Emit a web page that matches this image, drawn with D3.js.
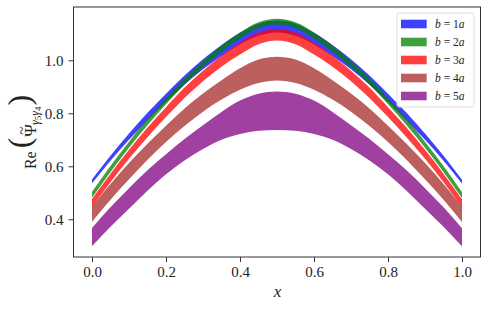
<!DOCTYPE html>
<html>
<head>
<meta charset="utf-8">
<script src="https://cdn.jsdelivr.net/npm/d3@7"></script>
<style>
  html, body { margin: 0; padding: 0; background: #fff; }
  svg { display: block; }
  svg text { font-family: "Liberation Serif", serif; fill: #222; }
</style>
</head>
<body>
<svg id="chart" width="489" height="310"></svg>
<script>
// ---- data ----
const xs = [0.00, 0.05, 0.10, 0.15, 0.20, 0.25, 0.30, 0.35, 0.40, 0.45, 0.50,
            0.55, 0.60, 0.65, 0.70, 0.75, 0.80, 0.85, 0.90, 0.95, 1.00];

const labels = ["1", "2", "3", "4", "5"];
const colors = ["#0000ff", "#008000", "#ff0000", "#a52a2a", "#800080"];

const blueLo   = [0.535,0.621,0.700,0.774,0.843,0.908,0.966,1.016,1.060,1.093,1.105,1.093,1.060,1.016,0.966,0.908,0.843,0.774,0.700,0.621,0.535];
const blueHi   = [0.550,0.640,0.724,0.802,0.874,0.943,1.004,1.058,1.104,1.138,1.150,1.138,1.104,1.058,1.004,0.943,0.874,0.802,0.724,0.640,0.550];
const greenLo  = [0.480,0.578,0.670,0.755,0.834,0.909,0.975,1.032,1.082,1.121,1.135,1.121,1.082,1.032,0.975,0.909,0.834,0.755,0.670,0.578,0.480];
const greenHi  = [0.503,0.601,0.693,0.778,0.856,0.931,0.997,1.056,1.105,1.144,1.157,1.144,1.105,1.056,0.997,0.931,0.856,0.778,0.693,0.601,0.503];
const redLo    = [0.446,0.540,0.628,0.710,0.786,0.858,0.921,0.976,1.022,1.061,1.075,1.061,1.022,0.976,0.921,0.858,0.786,0.710,0.628,0.540,0.446];
const redHi    = [0.476,0.572,0.662,0.746,0.823,0.897,0.961,1.017,1.066,1.105,1.118,1.105,1.066,1.017,0.961,0.897,0.823,0.746,0.662,0.572,0.476];
const brownLo  = [0.390,0.474,0.551,0.625,0.692,0.752,0.806,0.852,0.889,0.914,0.924,0.914,0.889,0.852,0.806,0.752,0.692,0.625,0.551,0.474,0.390];
const brownHi  = [0.448,0.533,0.612,0.685,0.753,0.818,0.875,0.925,0.970,1.003,1.013,1.003,0.970,0.925,0.875,0.818,0.753,0.685,0.612,0.533,0.448];
const purpleLo = [0.298,0.372,0.440,0.508,0.570,0.622,0.665,0.700,0.722,0.734,0.737,0.734,0.722,0.700,0.665,0.622,0.570,0.508,0.440,0.372,0.298];
const purpleHi = [0.366,0.445,0.517,0.585,0.645,0.703,0.755,0.805,0.848,0.874,0.882,0.874,0.848,0.805,0.755,0.703,0.645,0.585,0.517,0.445,0.366];

const xTicks = [0.0, 0.2, 0.4, 0.6, 0.8, 1.0];
const yTicks = [0.4, 0.6, 0.8, 1.0];

const bands = [
  {lo: blueLo,   hi: blueHi,   color: colors[0], label: labels[0]},
  {lo: greenLo,  hi: greenHi,  color: colors[1], label: labels[1]},
  {lo: redLo,    hi: redHi,    color: colors[2], label: labels[2]},
  {lo: brownLo,  hi: brownHi,  color: colors[3], label: labels[3]},
  {lo: purpleLo, hi: purpleHi, color: colors[4], label: labels[4]}
];

// ---- layout ----
const L = 73.5, R = 480.5, T = 7, B = 257;
const SERIF = "'Liberation Serif', serif";
const svg = d3.select("#chart");

const x = d3.scaleLinear().domain([-0.05, 1.05]).range([L, R]);
const y = d3.scaleLinear().domain([0.2577, 1.2011]).range([B, T]);

svg.append("defs").append("clipPath").attr("id", "plotclip")
  .append("rect").attr("x", L).attr("y", T).attr("width", R - L).attr("height", B - T);

const g = svg.append("g").attr("clip-path", "url(#plotclip)");
bands.forEach(b => {
  const pts = xs.map((xv, i) => ({x: xv, lo: b.lo[i], hi: b.hi[i]}));
  const area = d3.area()
    .x(d => x(d.x)).y0(d => y(d.lo)).y1(d => y(d.hi))
    .curve(d3.curveCatmullRom.alpha(0.5));
  g.append("path").datum(pts)
    .attr("d", area)
    .attr("fill", b.color)
    .attr("fill-opacity", 0.75)
    .attr("stroke", "none");
});

// ---- axes ----
const xAxis = d3.axisBottom(x).tickValues(xTicks).tickFormat(d3.format(".1f")).tickSize(5).tickPadding(4);
const yAxis = d3.axisLeft(y).tickValues(yTicks).tickFormat(d3.format(".1f")).tickSize(5).tickPadding(5);

const gx = svg.append("g").attr("transform", `translate(0,${B})`).call(xAxis);
const gy = svg.append("g").attr("transform", `translate(${L},0)`).call(yAxis);
[gx, gy].forEach(a => {
  a.attr("font-family", null);
  a.select(".domain").remove();
  a.selectAll(".tick line").attr("stroke", "#333").attr("stroke-width", 1);
  a.selectAll(".tick text").style("font-family", SERIF).style("font-size", "15px").attr("fill", "#222");
});
gx.selectAll(".tick text").attr("dy", "0.71em");
gy.selectAll(".tick text").attr("dy", "0.33em");

// frame
svg.append("rect").attr("x", L).attr("y", T).attr("width", R - L).attr("height", B - T)
  .attr("fill", "none").attr("stroke", "#333").attr("stroke-width", 1);

// x label
svg.append("text").attr("x", (L + R) / 2 + 0.5).attr("y", 297)
  .attr("text-anchor", "middle").style("font-family", SERIF).style("font-size", "17px")
  .style("font-style", "italic").text("x");

// y label
const yl = svg.append("text")
  .attr("transform", `translate(36,${(T + B) / 2}) rotate(-90)`)
  .attr("text-anchor", "middle").style("font-family", SERIF).style("font-size", "16px");
yl.append("tspan").text("Re");
yl.append("tspan").style("font-size", "32px").attr("dx", 3).attr("dy", -6).text("(");
yl.append("tspan").style("font-size", "17px").attr("dx", 1).attr("dy", 6).text("Ψ");
yl.append("tspan").style("font-size", "15px").attr("dx", -10.5).attr("dy", -9).text("~");
yl.append("tspan").style("font-size", "12px").style("font-style", "italic")
  .attr("dx", 1.5).attr("dy", 12).text("γ");
yl.append("tspan").style("font-size", "9px").attr("dy", 1.5).text("5");
yl.append("tspan").style("font-size", "12px").style("font-style", "italic").attr("dy", -1.5).text("γ");
yl.append("tspan").style("font-size", "9px").attr("dy", 1.5).text("4");
yl.append("tspan").style("font-size", "32px").attr("dy", -10.5).attr("dx", 1).text(")");

// ---- legend ----
const lg = svg.append("g");
lg.append("rect").attr("x", 397).attr("y", 13).attr("width", 77).attr("height", 94)
  .attr("rx", 2.5).attr("fill", "#fff").attr("fill-opacity", 0.8)
  .attr("stroke", "#dddddd").attr("stroke-width", 1);
bands.forEach((b, i) => {
  const cy = 24 + i * 18;
  lg.append("rect").attr("x", 401).attr("y", cy - 4.3).attr("width", 25.7).attr("height", 8.6)
    .attr("fill", b.color).attr("fill-opacity", 0.75);
  const t = lg.append("text").attr("x", 435).attr("y", cy + 4)
    .style("font-family", SERIF).style("font-size", "11.5px");
  t.append("tspan").style("font-style", "italic").text("b");
  t.append("tspan").text(" = " + b.label);
  t.append("tspan").style("font-style", "italic").text("a");
});
</script>
</body>
</html>
